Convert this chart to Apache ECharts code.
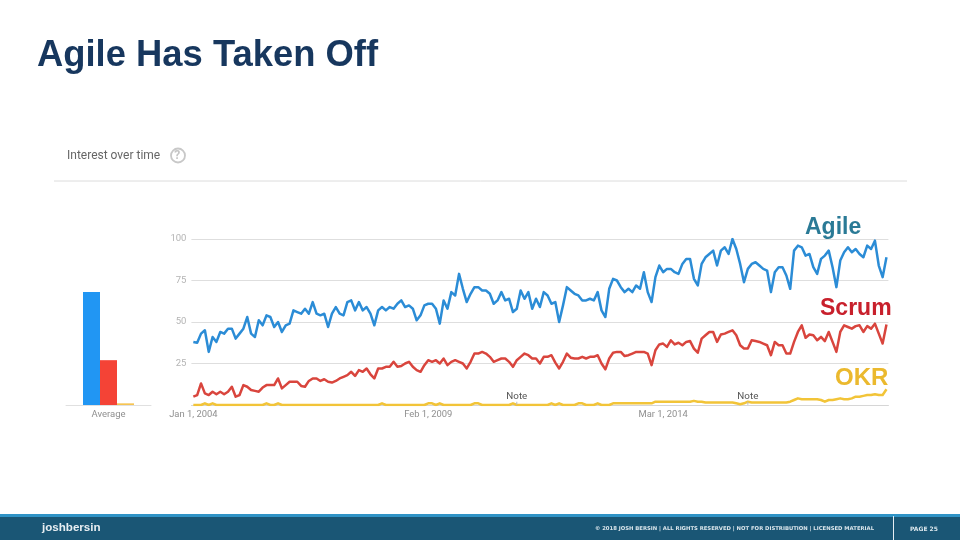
<!DOCTYPE html>
<html><head><meta charset="utf-8">
<script src="https://cdn.jsdelivr.net/npm/echarts@6/dist/echarts.min.js"></script>
<style>html,body{margin:0;padding:0;background:#fff}#c{width:960px;height:540px}</style>
</head><body><div id="c"></div>
<script>
const agile=[38,37.5,43,45,32,41,38,44,43,46,46,40,43,46,53,43,41,51,48,54,53,47,50,44,48,49,57,56,55,58,55,62,55,54,55,47,55,59,55,54,62,63,57,62,57,59,55,48,57,59,57,59,58,61,63,59,60,58,51,54,60,61,61,58,49,63,58,68,66,79,70,62,67,71,71,69,69,67,61,63,68,63,64,56,58,69,64,68,58,64,59,68,66,61,62,50,60,71,69,67,66,63,63,64,63,68,57,53,70,76,75,71,68,70,68,72,70,80,68,62,77,84,80,82,82,80,79,85,88,88,76,72,85,89,91,93,84,93,95,91,100,94,85,74,82,85,86,84,82,81,68,80,83,83,78,70,93,96,95,90,91,83,79,88,90,93,83,71,87,92,95,92,94,91,89,96,94,99,84,77,89];
const scrum=[5,6,13,7,6,8,6.5,8,6.5,8,11,5,6,12,11,9,8.5,8,10.5,12,12,12,16,10,12,14,14,14,11.5,11,14.5,16,16,14.5,15.5,14,13.5,14.5,16,17,18,20,17.5,21,20,22,18.5,16,22,22,23,23,26,23,23.5,25,26,23,21,20,24,27,26,27,25,28,24,26,27,26,25,22,26,31,31,32,31,29,26,27,28,28,26,23,27,29,31,30,28,28,25,29,29,30,25.5,22,26,31,28.5,28,28,29,28,29,29,30,25,21.5,28,31.5,32,32,29.5,30,31,32,32,32,31,24,33,36.5,37,35,39,36.5,37.5,36,38,38.5,34,31.5,40,42,44,44,38,42.5,43,44,45,42,36,34,34,39,38.5,38,37,36,30,38,36,36,31,31,38,44,48,40.5,42.5,42,39,41,38.5,44,38,32,44,48,47,46,47.5,48,44,47.5,46,49,43,37,48.5];
const okr=[0,0,0,1,0,1,0,0,0,0,0,0,0,0,0,0,0,0,0,1,0,0,1,0,0,0,0,0,0,0,0,0,0,0,0,0,0,0,0,0,0,0,0,0,0,0,0,0,0,1,0,0,0,0,0,0,0,0,0,0,0,1,1,0,1,0,0,0,0,0,0,0,0,1,1,0,0,0,0,0,0,0,0,1,0,0,0,0,0,0,0,0,0,1,0,1,0,0,0,0,1,1,0,0,0,1,0,0,0,1,1,1,1,1,1,1,1,1,1,1,2,2,2,2,2,2,2,2,2,2,2.5,2,2,1.5,1.5,1.5,1.5,1.5,1.5,1.5,1.5,1,0.5,1,2,1.5,1.5,1.5,1.5,1.5,1.5,1.5,1.5,1.5,1.5,2,3,4,3.5,3.5,3.5,3.5,3.5,3,2,3,3,3.5,4,3.5,3.5,4,5,5,5.5,6,6,6.5,6,6,9.5];
const startYear=2004;
const monthNames=['Jan','Feb','Mar','Apr','May','Jun','Jul','Aug','Sep','Oct','Nov','Dec'];
const months=agile.map((_,i)=>monthNames[i%12]+' 1, '+(startYear+Math.floor(i/12)));
const tickMonths=[0,61,122];
const noteMonths=[84,144];
const avgCategory=['Average'];
const avgAgile=[68];
const avgScrum=[27];
const avgOkr=[1];
const cBlue='#2b8cd6',cRed='#d9453d',cYellow='#f2c438';
const chart=echarts.init(document.getElementById('c'),null,{renderer:'canvas'});
const line=(name,data,color,extra)=>Object.assign({name,type:'line',xAxisIndex:0,yAxisIndex:0,data,symbol:'none',smooth:false,
  lineStyle:{color,width:2.5,join:'round'},itemStyle:{color},silent:true,animation:false},extra||{});
const bar=(name,data,color)=>({name,type:'bar',xAxisIndex:1,yAxisIndex:1,data,barWidth:17,barGap:'0%',itemStyle:{color},silent:true,animation:false});
function txt(x,y,text,font,fill,extra){return {type:'text',left:x,top:y,z:50,silent:true,style:Object.assign({text,font,fill},extra||{})};}
const footFont='bold 5.3px "DejaVu Sans"';
chart.setOption({
  animation:false,
  backgroundColor:'#fff',
  grid:[{left:191.4,top:239,width:697,height:166},{left:66,top:239,width:85,height:166}],
  xAxis:[
    {type:'category',gridIndex:0,data:months,axisTick:{show:false},
      axisLine:{lineStyle:{color:'#d6d6d6',width:1}},
      axisLabel:{interval:(i)=>tickMonths.includes(i),hideOverlap:false,color:'#8f8f8f',fontFamily:'Roboto',fontSize:9.4,margin:5}},
    {type:'category',gridIndex:1,data:avgCategory,axisTick:{show:false},
      axisLine:{lineStyle:{color:'#e0e0e0',width:1}},
      axisLabel:{color:'#8f8f8f',fontFamily:'Roboto',fontSize:9.5,margin:5}}
  ],
  yAxis:[
    {type:'value',gridIndex:0,min:0,max:100,interval:25,axisLine:{show:false},axisTick:{show:false},
      splitLine:{lineStyle:{color:'#dedede',width:1}},
      axisLabel:{color:'#b4b4b4',fontFamily:'Roboto',fontSize:9.5,margin:5,formatter:(v)=>v===0?'':String(v)}},
    {type:'value',gridIndex:1,min:0,max:100,interval:25,show:false}
  ],
  series:[
    line('Agile',agile,cBlue),
    line('Scrum',scrum,cRed),
    line('OKR',okr,cYellow,{markPoint:{symbol:'rect',symbolSize:[1,3],silent:true,itemStyle:{color:'#bbb'},
      data:noteMonths.map(i=>({coord:[i,1],value:'Note'})),
      label:{show:true,position:'top',distance:0,formatter:'Note',color:'#555',fontFamily:'Roboto',fontSize:9.8}}}),
    bar('Agile avg',avgAgile,'#2196f3'),
    bar('Scrum avg',avgScrum,'#f44336'),
    bar('OKR avg',avgOkr,'#f6c453')
  ],
  graphic:[
    txt(37,38,'Agile Has Taken Off','bold 36.4px "Liberation Sans"','#17375e'),
    txt(67,150,'Interest over time','12px Roboto','#666'),
    {type:'circle',z:50,silent:true,shape:{cx:178,cy:155.5,r:7},style:{fill:'none',stroke:'#c8c8c8',lineWidth:1.8}},
    txt(174.3,149.5,'?','bold 12px Roboto','#c4c4c4'),
    {type:'line',z:50,silent:true,shape:{x1:54,y1:181,x2:907,y2:181},style:{stroke:'#dcdcdc',lineWidth:1}},
    txt(805,216.5,'Agile','bold 23px "Liberation Sans"','#2a7a96'),
    txt(820,297,'Scrum','bold 23px "Liberation Sans"','#c8202c'),
    txt(835,366,'OKR','bold 24px "Liberation Sans"','#ebb92e'),
    {type:'rect',z:40,silent:true,shape:{x:0,y:514,width:960,height:26},style:{fill:'#1a5675'}},
    {type:'rect',z:41,silent:true,shape:{x:0,y:514,width:960,height:3},style:{fill:'#2f93c6'}},
    {type:'line',z:42,silent:true,shape:{x1:893.5,y1:516,x2:893.5,y2:540},style:{stroke:'#e6eef3',lineWidth:1}},
    txt(42,522,'joshbersin','bold 11.6px "Liberation Sans"','#e8eef2'),
    txt(595,526,'© 2018 JOSH BERSIN | ALL RIGHTS RESERVED | NOT FOR DISTRIBUTION | LICENSED MATERIAL',footFont,'#dbe6ec'),
    txt(910,526,'PAGE 25','bold 6px "DejaVu Sans"','#dbe6ec')
  ]
});
</script></body></html>
